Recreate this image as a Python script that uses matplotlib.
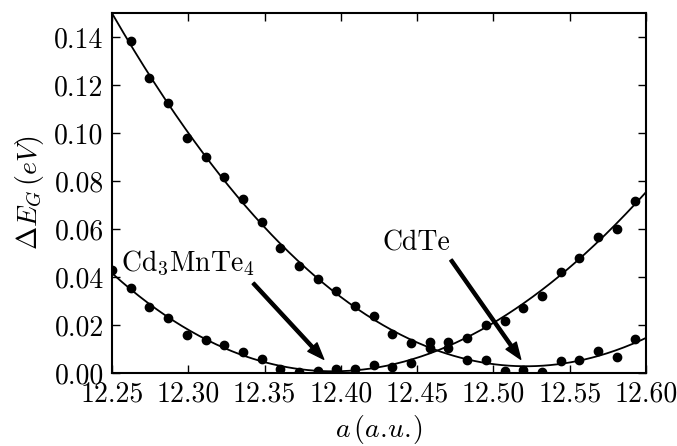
import numpy as np
import matplotlib
matplotlib.use("Agg")
import matplotlib.pyplot as plt

plt.rcParams['font.family'] = 'serif'
plt.rcParams['font.serif'] = ['cmr10']
plt.rcParams['mathtext.fontset'] = 'cm'
plt.rcParams['axes.formatter.use_mathtext'] = True
plt.rcParams['axes.unicode_minus'] = False

# Data
a_cdte = [12.2625, 12.2745, 12.2868, 12.2990, 12.3113, 12.3235, 12.3358,
          12.3480, 12.3603, 12.3725, 12.3848, 12.3970, 12.4093, 12.4215,
          12.4338, 12.4460, 12.4583, 12.4705, 12.4828, 12.4950, 12.5073,
          12.5195, 12.5318, 12.5440, 12.5563, 12.5685, 12.5808, 12.5930]
e_cdte = [0.1385, 0.1230, 0.1124, 0.0980, 0.0901, 0.0817, 0.0724,
          0.0629, 0.0520, 0.0444, 0.0390, 0.0343, 0.0280, 0.0239,
          0.0163, 0.0124, 0.0131, 0.0103, 0.0054, 0.0054, 0.0008,
          0.0011, 0.0005, 0.0051, 0.0054, 0.0093, 0.0068, 0.0142]

a_cmt = [12.2500, 12.2625, 12.2745, 12.2868, 12.2990, 12.3113, 12.3235,
         12.3358, 12.3480, 12.3603, 12.3725, 12.3848, 12.3970, 12.4093,
         12.4215, 12.4338, 12.4460, 12.4583, 12.4705, 12.4828, 12.4950,
         12.5073, 12.5195, 12.5318, 12.5440, 12.5563, 12.5685, 12.5808,
         12.5930]
e_cmt = [0.0429, 0.0356, 0.0273, 0.0231, 0.0157, 0.0139, 0.0115,
         0.0086, 0.0057, 0.0015, 0.0004, 0.0009, 0.0017, 0.0017,
         0.0035, 0.0024, 0.0043, 0.0103, 0.0131, 0.0147, 0.0200,
         0.0217, 0.0272, 0.0321, 0.0421, 0.0478, 0.0568, 0.0601,
         0.0718]

x_ticks = [12.25, 12.30, 12.35, 12.40, 12.45, 12.50, 12.55, 12.60]
y_ticks = [0.00, 0.02, 0.04, 0.06, 0.08, 0.10, 0.12, 0.14]

fig = plt.figure(figsize=(6.77, 4.46), dpi=100)
ax = fig.add_axes([0.1654, 0.1637, 0.7888, 0.8072])

xs = np.linspace(12.20, 12.65, 400)
for a, e in [(a_cdte, e_cdte), (a_cmt, e_cmt)]:
    c = np.polyfit(a, e, 3)
    ax.plot(xs, np.polyval(c, xs), color='k', lw=1.3)
    ax.plot(a, e, 'o', color='k', ms=6, clip_on=True)

ax.set_xlim(12.25, 12.60)
ax.set_ylim(0.0, 0.15)
ax.set_xticks(x_ticks)
ax.set_yticks(y_ticks)
ax.set_xticklabels([f"{v:.2f}" for v in x_ticks])
ax.set_yticklabels([f"{v:.2f}" for v in y_ticks])
ax.tick_params(direction='in', length=6, width=1, top=True, right=True,
               labelsize=20, pad=6)
for s in ax.spines.values():
    s.set_linewidth(1.5)

ax.set_xlabel(r'$a\,(a.\!u.\!)$', fontsize=20, labelpad=4)
ax.set_ylabel(r'$\Delta E_G\,(eV)$', fontsize=20, labelpad=6)

ax.text(12.2557, 0.0425, r'Cd$_3$MnTe$_4$', fontsize=20, ha='left', va='baseline')
ax.text(12.427, 0.0512, 'CdTe', fontsize=20, ha='left', va='baseline')

arrow = dict(facecolor='black', edgecolor='black', width=2.2, headwidth=9,
             headlength=12, shrink=0.0)
ax.annotate('', xy=(12.3888, 0.0057), xytext=(12.3426, 0.0374), arrowprops=arrow)
ax.annotate('', xy=(12.5179, 0.0057), xytext=(12.4722, 0.0471), arrowprops=arrow)

fig.savefig('out.png', dpi=100)
